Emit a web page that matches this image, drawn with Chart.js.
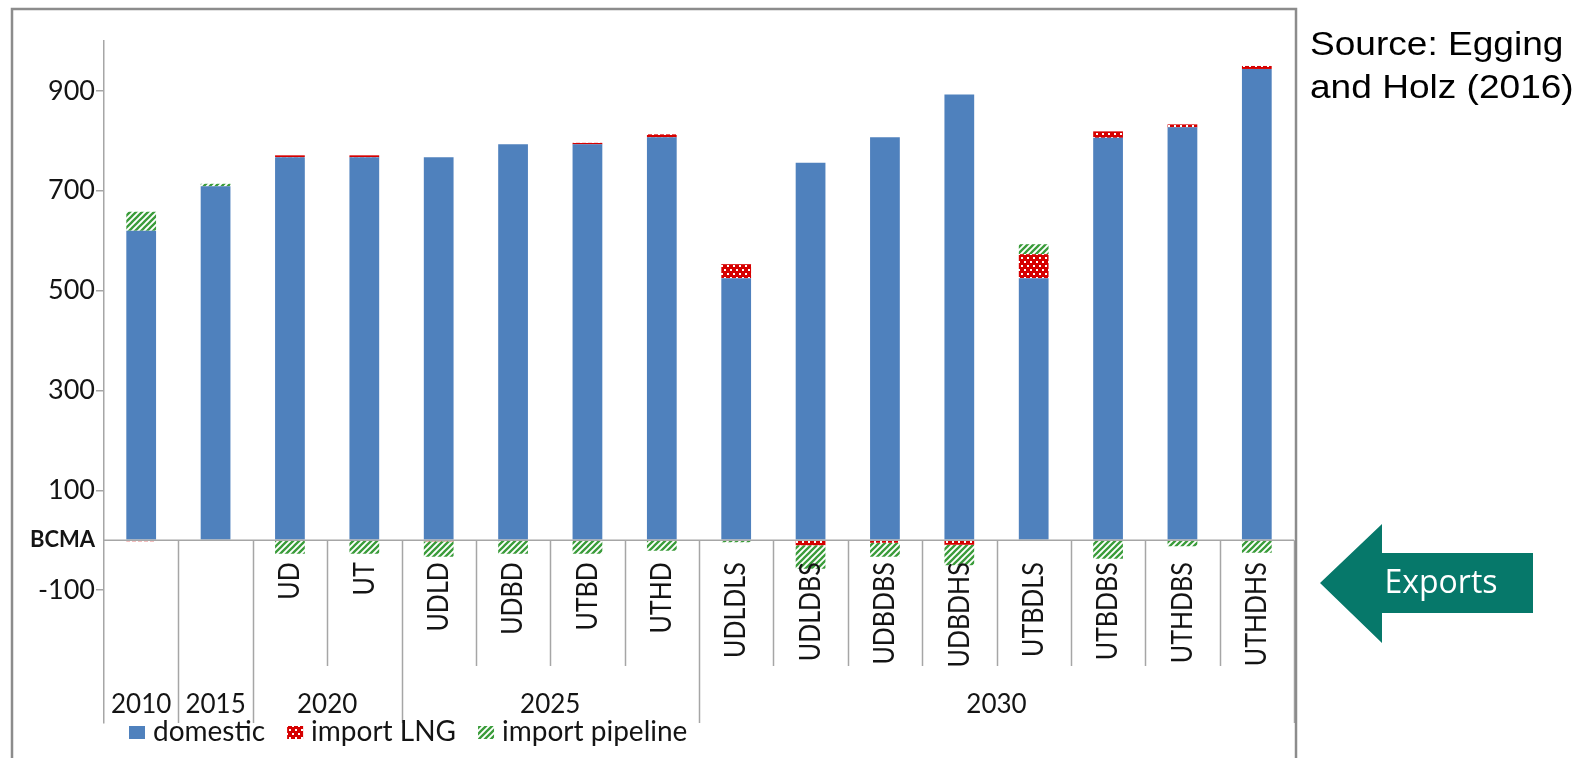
<!DOCTYPE html>
<html>
<head>
<meta charset="utf-8">
<title>Gas supply by scenario</title>
<script src="https://cdn.jsdelivr.net/npm/chart.js@4.4.1/dist/chart.umd.min.js"></script>
<style>
  html, body { margin: 0; padding: 0; background: #ffffff; }
  #wrap { position: relative; width: 1578px; height: 758px; }
</style>
</head>
<body>
<div id="wrap"><canvas id="gasChart"></canvas></div>
<script>
// scenario per bar (first two bars are the historic years, no scenario name)
const scenarios = ["", "", "UD", "UT", "UDLD", "UDBD", "UTBD", "UTHD",
  "UDLDLS", "UDLDBS", "UDBDBS", "UDBDHS", "UTBDLS", "UTBDBS", "UTHDBS", "UTHDHS"];
const years = ["2010", "2015", "2020", "2020", "2025", "2025", "2025", "2025",
  "2030", "2030", "2030", "2030", "2030", "2030", "2030", "2030"];

// BCMA; negative values are exports
const domestic = [620, 709, 767, 767, 767, 793, 793, 807, 525, 756, 807, 893, 525, 806, 827, 944];
const importLNG = [-2, 0, 4, 4, -2, 0, 3, 6, 28, -10, -5, -9, 48, 13, 6, 6];
const importPipeline = [38, 5, -27, -27, -31, -27, -27, -21, -4, -47, -28, -41, 20, -37, -12, -25];

const yTicks = [-100, 0, 100, 300, 500, 700, 900];
const unitLabel = "BCMA";
const sourceLines = ["Source: Egging", "and Holz (2016)"];
const arrowText = "Exports";

const FONT = "Lato, 'Open Sans', sans-serif";
const INK = "#141414";
const AXIS_GREY = "#a6a6a6";

// red fill with white dots
function lngPattern() {
  const c = document.createElement("canvas");
  c.width = 6; c.height = 8;
  const g = c.getContext("2d");
  g.fillStyle = "#d60000";
  g.fillRect(0, 0, 6, 8);
  g.fillStyle = "#ffffff";
  g.fillRect(1, 1, 2, 2);
  g.fillRect(4, 5, 2, 2);
  g.fillRect(-2, 5, 2, 2);
  return g.createPattern(c, "repeat");
}

// green upward diagonal stripes on white
function pipelinePattern() {
  const c = document.createElement("canvas");
  c.width = 6; c.height = 6;
  const g = c.getContext("2d");
  g.fillStyle = "#ffffff";
  g.fillRect(0, 0, 6, 6);
  g.strokeStyle = "#3a9c3a";
  g.lineWidth = 2.3;
  g.beginPath();
  g.moveTo(-1, 7); g.lineTo(7, -1);
  g.moveTo(-1, 1); g.lineTo(1, -1);
  g.moveTo(5, 7); g.lineTo(7, 5);
  g.stroke();
  return g.createPattern(c, "repeat");
}

const blueFill = "#4f81bd";
const lngFill = lngPattern();
const pipeFill = pipelinePattern();

// multi-level category axis, legend, notes and frame
const decor = {
  id: "decor",
  afterDatasetsDraw(chart) {
    const { ctx, chartArea: a, scales: { x, y } } = chart;
    const zeroY = y.getPixelForValue(0);
    const step = (a.right - a.left) / scenarios.length;

    ctx.save();
    ctx.strokeStyle = AXIS_GREY;
    ctx.lineWidth = 1.5;
    ctx.beginPath();
    ctx.moveTo(a.left, zeroY);
    ctx.lineTo(a.right, zeroY);
    for (let i = 1; i <= scenarios.length; i++) {
      const bx = Math.round(a.left + i * step) + 0.5;
      const groupEdge = i === scenarios.length || years[i] !== years[i - 1];
      ctx.moveTo(bx, zeroY);
      ctx.lineTo(bx, groupEdge ? a.bottom : 666);
    }
    ctx.stroke();

    // scenario names, rotated
    ctx.fillStyle = INK;
    ctx.font = "25px " + FONT;
    ctx.textAlign = "right";
    ctx.textBaseline = "middle";
    scenarios.forEach((s, i) => {
      if (!s) return;
      ctx.save();
      ctx.translate(x.getPixelForValue(i), zeroY + 22);
      ctx.rotate(-Math.PI / 2);
      ctx.scale(1, 1.15);
      ctx.fillText(s, 0, 0);
      ctx.restore();
    });

    // year groups
    ctx.font = "26px " + FONT;
    ctx.textAlign = "center";
    let start = 0;
    for (let i = 1; i <= years.length; i++) {
      if (i === years.length || years[i] !== years[start]) {
        const cx = (x.getPixelForValue(start) + x.getPixelForValue(i - 1)) / 2;
        ctx.fillText(years[start], cx, 705);
        start = i;
      }
    }
    ctx.restore();
  },
  afterDraw(chart) {
    const { ctx } = chart;
    ctx.save();

    // legend
    ctx.font = "28px " + FONT;
    ctx.textBaseline = "middle";
    ctx.textAlign = "left";
    let lx = 129;
    chart.data.datasets.forEach((ds) => {
      ctx.fillStyle = ds.backgroundColor;
      ctx.fillRect(lx, 726, 16, 13);
      lx += 24;
      ctx.fillStyle = INK;
      ctx.fillText(ds.label, lx, 732);
      lx += ctx.measureText(ds.label).width + 22;
    });

    // outer frame
    ctx.strokeStyle = "#8c8c8c";
    ctx.lineWidth = 2.5;
    ctx.strokeRect(12, 9, 1284, 800);

    // source note
    ctx.fillStyle = "#000000";
    ctx.font = "34px 'Liberation Sans', Arial, sans-serif";
    ctx.textBaseline = "alphabetic";
    sourceLines.forEach((t, i) => {
      ctx.save();
      ctx.translate(1310, 55 + i * 43);
      ctx.scale(1.09, 1);
      ctx.fillText(t, 0, 0);
      ctx.restore();
    });

    // exports arrow
    ctx.fillStyle = "#06786a";
    ctx.beginPath();
    ctx.moveTo(1320, 583);
    ctx.lineTo(1382, 524);
    ctx.lineTo(1382, 553);
    ctx.lineTo(1533, 553);
    ctx.lineTo(1533, 613);
    ctx.lineTo(1382, 613);
    ctx.lineTo(1382, 643);
    ctx.closePath();
    ctx.fill();
    ctx.fillStyle = "#ffffff";
    ctx.font = "32px 'Open Sans', sans-serif";
    ctx.textAlign = "center";
    ctx.textBaseline = "middle";
    ctx.fillText(arrowText, 1441, 584);
    ctx.restore();
  }
};

const config = {
  type: "bar",
  data: {
    labels: scenarios,
    datasets: [
      { label: "domestic", data: domestic, backgroundColor: blueFill },
      { label: "import LNG", data: importLNG, backgroundColor: lngFill },
      { label: "import pipeline", data: importPipeline, backgroundColor: pipeFill },
    ],
  },
  options: {
    responsive: true,
    maintainAspectRatio: false,
    animation: false,
    layout: { padding: { left: 0, top: 41, right: 284, bottom: 35 } },
    datasets: { bar: { barPercentage: 0.4, categoryPercentage: 1.0 } },
    plugins: {
      legend: { display: false },
      tooltip: { enabled: false },
    },
    scales: {
      x: { stacked: true, display: false },
      y: {
        stacked: true,
        min: -366,
        max: 1000,
        afterFit: (scale) => { scale.width = 104; },
        afterBuildTicks: (scale) => { scale.ticks = yTicks.map((v) => ({ value: v })); },
        grid: {
          drawOnChartArea: false,
          drawTicks: true,
          tickLength: 8,
          tickColor: (c) => (c.tick && c.tick.value === 0 ? "rgba(0,0,0,0)" : AXIS_GREY),
          lineWidth: 1.5,
        },
        border: { display: true, color: AXIS_GREY, width: 1.5 },
        ticks: {
          padding: 1,
          color: INK,
          font: (c) => (c.tick && c.tick.value === 0
            ? { family: FONT, size: 22, weight: "bold" }
            : { family: FONT, size: 27 }),
          callback: (v) => (v === 0 ? unitLabel : v),
        },
      },
    },
  },
  plugins: [decor],
};

const myChart = new Chart(document.getElementById("gasChart"), config);
</script>
</body>
</html>
